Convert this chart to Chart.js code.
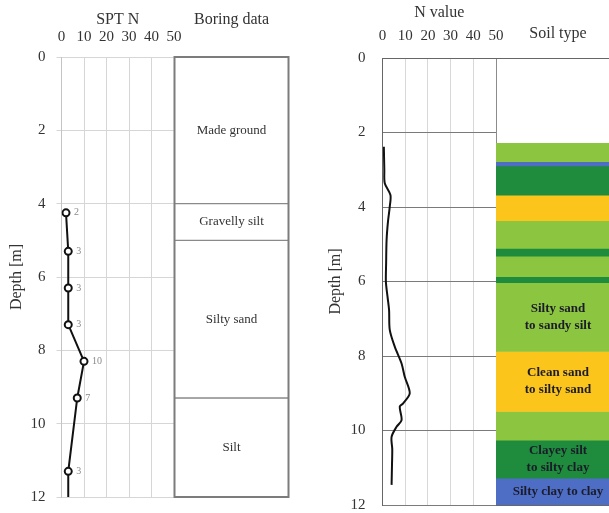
<!DOCTYPE html>
<html>
<head>
<meta charset="utf-8">
<script src="https://cdn.jsdelivr.net/npm/chart.js@4.4.1/dist/chart.umd.min.js"></script>
<style>
  html, body { margin: 0; padding: 0; background: #fff; }
  #wrap { position: relative; width: 609px; height: 513px; overflow: hidden; background: #fff; }
  #wrap canvas { position: absolute; left: 0; top: 0; }
</style>
</head>
<body>
<div id="wrap">
  <canvas id="sptChart" width="609" height="513" style="width:609px;height:513px"></canvas>
  <canvas id="boringChart" width="609" height="513" style="width:609px;height:513px"></canvas>
  <canvas id="cptChart" width="609" height="513" style="width:609px;height:513px"></canvas>
  <canvas id="soilChart" width="640" height="513" style="width:640px;height:513px"></canvas>
</div>
<script>
// ---- axis ticks ----
const depthTicks = [0, 2, 4, 6, 8, 10, 12];
const nTicks = [0, 10, 20, 30, 40, 50];

// ---- SPT borehole: blow counts vs depth (m) ----
const sptDepth = [4.25, 5.3, 6.3, 7.3, 8.3, 9.3, 11.3, 12.3];
const sptN = [2, 3, 3, 3, 10, 7, 3, 3];

// ---- boring log layers ----
const boringLayer = ['Made ground', 'Gravelly silt', 'Silty sand', 'Silt'];
const boringTop = [0, 4, 5, 9.3];
const boringBottom = [4, 5, 9.3, 12];

// ---- CPT-derived N value profile ----
const cptDepth = [2.38, 3.0, 3.36, 3.68, 3.99, 4.4, 4.89, 5.5, 6.01, 6.4, 6.77, 7.3, 7.75, 8.2, 8.56, 9.0, 9.27, 9.36, 9.72, 9.9, 10.17, 10.5, 10.88, 11.46];
const cptN = [0.6, 0.8, 1.0, 3.5, 3.2, 2.4, 1.8, 1.6, 1.5, 2.2, 2.9, 3.2, 5.4, 8.4, 9.8, 12, 9.1, 7.6, 8.4, 6.2, 4.0, 4.3, 4.2, 4.0];

// ---- soil behaviour type column ----
const soilTop = [2.29, 2.78, 2.90, 3.68, 4.37, 5.11, 5.32, 5.87, 6.03, 7.88, 9.49, 10.26, 11.28];
const soilBottom = [2.78, 2.90, 3.68, 4.37, 5.11, 5.32, 5.87, 6.03, 7.88, 9.49, 10.26, 11.28, 12.0];
const soilClass = ['siltySand', 'clay', 'clayeySilt', 'cleanSand', 'siltySand', 'clayeySilt', 'siltySand', 'clayeySilt', 'siltySand', 'cleanSand', 'siltySand', 'clayeySilt', 'clay'];
const soilLabel = ['', '', '', '', '', '', '', '', 'Silty sand\nto sandy silt', 'Clean sand\nto silty sand', '', 'Clayey silt\nto silty clay', 'Silty clay to clay'];
const soilColor = {
  siltySand: '#8cc540',
  clayeySilt: '#1f8b3c',
  cleanSand: '#fcc51c',
  clay: '#4e6ec6'
};

Chart.defaults.font.family = "'Liberation Serif', 'Times New Roman', serif";
Chart.defaults.color = '#333';

const SERIF = "'Liberation Serif', 'Times New Roman', serif";

function fixHeight(h) {
  return (s) => { s.height = h; s.paddingLeft = s.paddingRight = s.paddingTop = s.paddingBottom = 0; };
}
function fixWidth(w) {
  return (s) => { s.width = w; s.paddingLeft = s.paddingRight = s.paddingTop = s.paddingBottom = 0; };
}
function setTicks(values) {
  return (s) => { s.ticks = values.map(v => ({ value: v })); };
}

const baseOptions = {
  responsive: false,
  animation: false,
  events: [],
  plugins: { legend: { display: false }, tooltip: { enabled: false } }
};

// value labels next to SPT points
const sptLabels = {
  id: 'sptLabels',
  afterDatasetsDraw(chart) {
    const { ctx, chartArea } = chart;
    const pts = chart.getDatasetMeta(0).data;
    ctx.save();
    ctx.font = '10px ' + SERIF;
    ctx.fillStyle = '#8a8a8a';
    ctx.textAlign = 'left';
    ctx.textBaseline = 'middle';
    pts.forEach((p, i) => {
      if (p.y > chartArea.bottom) return;
      ctx.fillText(String(sptN[i]), p.x + 8, p.y);
    });
    ctx.restore();
  }
};

// ---- left panel: SPT N ----
new Chart(document.getElementById('sptChart'), {
  type: 'line',
  data: {
    datasets: [{
      data: sptDepth.map((d, i) => ({ x: sptN[i], y: d })),
      borderColor: '#111',
      borderWidth: 2,
      tension: 0,
      pointRadius: 3.5,
      pointBackgroundColor: '#fff',
      pointBorderColor: '#111',
      pointBorderWidth: 2
    }]
  },
  options: {
    ...baseOptions,
    layout: { padding: { left: 0, top: 0, right: 609 - 174, bottom: 513 - 497 } },
    scales: {
      x: {
        type: 'linear', position: 'top', min: 0, max: 50,
        afterBuildTicks: setTicks(nTicks),
        afterFit: fixHeight(57),
        grid: { color: '#d6d6d6', drawTicks: false },
        border: { display: false },
        ticks: { padding: 11, font: { size: 15 }, color: '#333', maxRotation: 0 },
        title: { display: true, text: 'SPT N', font: { size: 16 }, color: '#333', padding: { top: 10, bottom: 0 } }
      },
      y: {
        type: 'linear', reverse: true, min: 0, max: 12,
        afterBuildTicks: setTicks(depthTicks),
        afterFit: fixWidth(61.5),
        grid: { color: '#d6d6d6', drawTicks: true, tickLength: 5 },
        border: { display: true, color: '#c4c4c4' },
        ticks: { padding: 11, font: { size: 15 }, color: '#333' },
        title: { display: true, text: 'Depth [m]', font: { size: 16 }, color: '#333', padding: { top: 7, bottom: 0 } }
      }
    }
  },
  plugins: [sptLabels]
});

// layer names and outer frame for the boring log
const boringDecor = {
  id: 'boringDecor',
  afterDatasetsDraw(chart) {
    const { ctx, chartArea } = chart;
    ctx.save();
    ctx.font = '13px ' + SERIF;
    ctx.fillStyle = '#333';
    ctx.textAlign = 'center';
    ctx.textBaseline = 'middle';
    chart.data.datasets.forEach((ds, i) => {
      const bar = chart.getDatasetMeta(i).data[0];
      ctx.fillText(boringLayer[i], bar.x, (bar.y + bar.base) / 2);
    });
    ctx.strokeStyle = '#7c7c7c';
    ctx.lineWidth = 2;
    ctx.strokeRect(chartArea.left + 0.5, chartArea.top, chartArea.width - 1, chartArea.height);
    ctx.restore();
  }
};

// ---- left panel: boring data ----
new Chart(document.getElementById('boringChart'), {
  type: 'bar',
  data: {
    labels: ['Boring data'],
    datasets: boringLayer.map((name, i) => ({
      label: name,
      data: [[boringTop[i], boringBottom[i]]],
      backgroundColor: '#fff',
      borderColor: '#8a8a8a',
      borderWidth: 1,
      borderSkipped: false,
      grouped: false,
      barPercentage: 1,
      categoryPercentage: 1
    }))
  },
  options: {
    ...baseOptions,
    layout: { padding: { left: 174, top: 0, right: 609 - 289, bottom: 513 - 497 } },
    scales: {
      x: {
        type: 'category', position: 'top',
        afterFit: fixHeight(57),
        grid: { display: false },
        border: { display: false },
        ticks: { display: false },
        title: { display: true, text: 'Boring data', font: { size: 16 }, color: '#333', padding: { top: 10, bottom: 0 } }
      },
      y: { type: 'linear', reverse: true, min: 0, max: 12, display: false }
    }
  },
  plugins: [boringDecor]
});

// ---- right panel: N value profile ----
new Chart(document.getElementById('cptChart'), {
  type: 'line',
  data: {
    datasets: [{
      data: cptDepth.map((d, i) => ({ x: cptN[i], y: d })),
      borderColor: '#111',
      borderWidth: 2,
      tension: 0.3,
      pointRadius: 0
    }]
  },
  options: {
    ...baseOptions,
    layout: { padding: { left: 320, top: 0, right: 609 - 496, bottom: 513 - 505 } },
    scales: {
      x: {
        type: 'linear', position: 'top', min: 0, max: 50,
        afterBuildTicks: setTicks(nTicks),
        afterFit: fixHeight(58),
        grid: { color: (c) => (c.tick && c.tick.value === 50 ? '#8c8c8c' : '#d8d8d8'), drawTicks: false },
        border: { display: true, color: '#666' },
        ticks: { padding: 13, font: { size: 15 }, color: '#333', maxRotation: 0 },
        title: { display: true, text: 'N value', font: { size: 16 }, color: '#333', padding: { top: 3, bottom: 0 } }
      },
      y: {
        type: 'linear', reverse: true, min: 0, max: 12,
        afterBuildTicks: setTicks(depthTicks),
        afterFit: fixWidth(62.5),
        grid: { color: '#7a7a7a', drawTicks: false },
        border: { display: true, color: '#666' },
        ticks: { padding: 17, font: { size: 15 }, color: '#333' },
        title: { display: true, text: 'Depth [m]', font: { size: 16 }, color: '#333', padding: { top: 6, bottom: 0 } }
      }
    }
  }
});

// soil type names inside the coloured layers
const soilNames = {
  id: 'soilNames',
  afterDatasetsDraw(chart) {
    const { ctx } = chart;
    ctx.save();
    ctx.font = 'bold 13px ' + SERIF;
    ctx.fillStyle = '#1b1b2a';
    ctx.textAlign = 'center';
    ctx.textBaseline = 'middle';
    chart.data.datasets.forEach((ds, i) => {
      if (!soilLabel[i]) return;
      const bar = chart.getDatasetMeta(i).data[0];
      const lines = soilLabel[i].split('\n');
      const lh = 17;
      const cy = (bar.y + bar.base) / 2;
      lines.forEach((t, k) => {
        ctx.fillText(t, bar.x, cy + (k - (lines.length - 1) / 2) * lh);
      });
    });
    ctx.restore();
  }
};

// ---- right panel: soil type column ----
new Chart(document.getElementById('soilChart'), {
  type: 'bar',
  data: {
    labels: ['Soil type'],
    datasets: soilClass.map((cls, i) => ({
      label: cls,
      data: [[soilTop[i], soilBottom[i]]],
      backgroundColor: soilColor[cls],
      borderWidth: 0,
      grouped: false,
      barPercentage: 1,
      categoryPercentage: 1
    }))
  },
  options: {
    ...baseOptions,
    layout: { padding: { left: 496, top: 0, right: 640 - 620, bottom: 513 - 505 } },
    scales: {
      x: {
        type: 'category', position: 'top',
        afterFit: fixHeight(58),
        grid: { display: false },
        border: { display: true, color: '#666' },
        ticks: { display: false },
        title: { display: true, text: 'Soil type', font: { size: 16 }, color: '#333', padding: { top: 24, bottom: 0 } }
      },
      y: {
        type: 'linear', reverse: true, min: 0, max: 12, z: 1,
        afterBuildTicks: setTicks(depthTicks),
        afterFit: fixWidth(0),
        grid: { color: (c) => (c.tick && c.tick.value === 12 ? '#666' : 'rgba(0,0,0,0)'), drawTicks: false },
        border: { display: false },
        ticks: { display: false }
      }
    }
  },
  plugins: [soilNames]
});
</script>
</body>
</html>
